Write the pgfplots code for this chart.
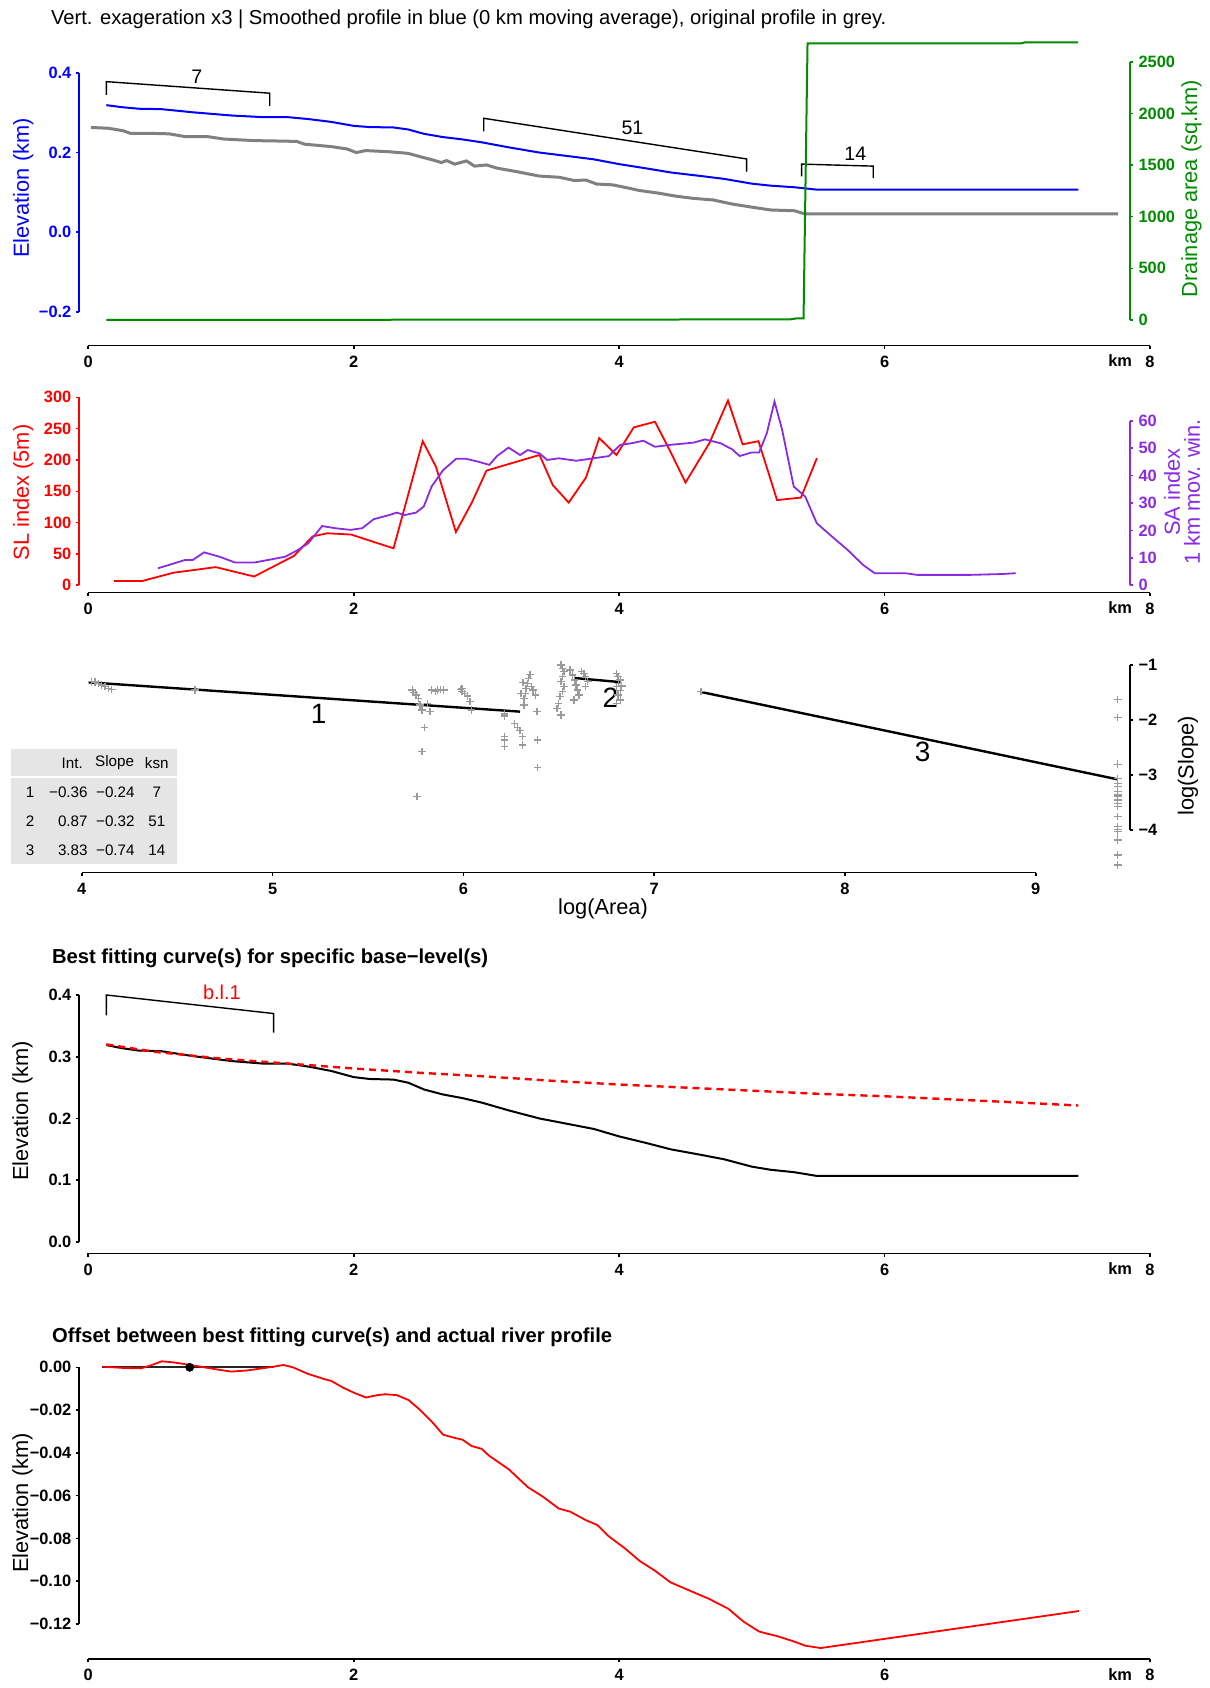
\documentclass[border=0pt]{standalone}
\usepackage{fontspec}
\setmainfont{Liberation Sans}
\usepackage{pgfplots}
\usepackage{pgfplotstable}
\pgfplotsset{compat=1.18}
\definecolor{rblue}{HTML}{0000FF}
\definecolor{rgreen}{HTML}{008B00}
\definecolor{rgrey}{HTML}{808080}
\definecolor{rpurple}{HTML}{8A2BE2}
\definecolor{rred}{HTML}{FF0000}
\definecolor{ptgrey}{HTML}{9A9A9A}
\definecolor{tabgrey}{HTML}{E5E5E5}
\newcommand{\tickfont}{\bfseries\fontsize{8.2}{9}\selectfont}
\newcommand{\labfont}{\fontsize{10.9}{12}\selectfont}
\pgfplotsset{
  rbase/.style={
    scale only axis, clip=false, anchor=south west,
    axis line style={draw=none},
    tick align=outside, major tick length=1.6pt,
    xtick pos=left, ytick pos=left,
    scaled ticks=false,
    xtick style={black, line width=0.8pt},
    tick label style={font=\tickfont},
    xticklabel style={anchor=north, inner sep=0pt, yshift=-3.4pt},
  },
  rleft/.style={yticklabel style={anchor=east, inner sep=0pt, xshift=-2.2pt}},
  rright/.style={ytick pos=right, xtick=\empty, yticklabel style={anchor=west, inner sep=0pt, xshift=2.5pt}},
}
\pgfplotstableread{
x y
0.136 0.319
0.25 0.314
0.38 0.310
0.55 0.309
0.79 0.301
1.08 0.293
1.31 0.289
1.50 0.289
1.66 0.284
1.83 0.277
2.00 0.267
2.12 0.264
2.30 0.263
2.41 0.258
2.53 0.247
2.67 0.239
2.82 0.233
2.96 0.226
3.17 0.213
3.40 0.200
3.57 0.193
3.81 0.183
4.00 0.171
4.21 0.160
4.39 0.150
4.62 0.141
4.79 0.134
5.00 0.122
5.14 0.117
5.32 0.113
5.49 0.107
7.46 0.107
}\smoothprof
\begin{document}
\begin{tikzpicture}
% ---------- titles ----------
\node[anchor=west, inner sep=0pt, font=\fontsize{10.1}{12}\selectfont] at (25.3pt,834.5pt) {Vert. exageration x3 | Smoothed profile in blue (0 km moving average), original profile in grey.};
\node[anchor=west, inner sep=0pt, font=\bfseries\fontsize{10.1}{12}\selectfont] at (25.85pt,365pt) {Best fitting curve(s) for specific base−level(s)};
\node[anchor=west, inner sep=0pt, font=\bfseries\fontsize{10.1}{12}\selectfont] at (25.85pt,175.5pt) {Offset between best fitting curve(s) and actual river profile};

% ---------- panel 1 : elevation ----------
\begin{axis}[rbase, rleft, at={(39.65pt,671.15pt)}, width=535.35pt, height=156.85pt,
  xmin=-0.0678, xmax=8, ymin=-0.2846, ymax=0.5026,
  xtick={0,2,4,6,8}, xticklabels={0,2,4,6,8},
  ytick={-0.2,0,0.2,0.4}, yticklabels={−0.2,0.0,0.2,0.4},
  ytick style={rblue, line width=0.8pt}, yticklabel style={text=rblue}]
\addplot[rgrey, line width=1.5pt] table {
x y
0.02 0.263
0.15 0.261
0.26 0.255
0.32 0.248
0.50 0.248
0.61 0.247
0.73 0.240
0.90 0.240
1.02 0.234
1.25 0.230
1.43 0.229
1.57 0.228
1.63 0.221
1.83 0.215
1.95 0.209
2.02 0.200
2.09 0.205
2.27 0.202
2.41 0.198
2.52 0.188
2.59 0.182
2.66 0.175
2.70 0.180
2.76 0.171
2.85 0.179
2.91 0.166
3.00 0.169
3.08 0.161
3.23 0.152
3.40 0.141
3.55 0.138
3.66 0.130
3.75 0.131
3.83 0.121
3.95 0.119
4.04 0.113
4.15 0.105
4.30 0.098
4.42 0.091
4.56 0.085
4.71 0.081
4.85 0.071
5.00 0.063
5.14 0.056
5.32 0.054
5.40 0.046
7.76 0.046
};
\addplot[rblue, line width=1pt] table {\smoothprof};
\addplot[black, line width=0.7pt] coordinates {(0.136,0.345) (0.136,0.378) (1.367,0.349) (1.367,0.317)};
\addplot[black, line width=0.7pt] coordinates {(2.98,0.253) (2.98,0.286) (4.96,0.184) (4.96,0.152)};
\addplot[black, line width=0.7pt] coordinates {(5.375,0.140) (5.375,0.171) (5.915,0.166) (5.915,0.136)};
\node[font=\fontsize{9.8}{11}\selectfont] at (axis cs:0.817,0.389) {7};
\node[font=\fontsize{9.8}{11}\selectfont] at (axis cs:4.10,0.261) {51};
\node[font=\fontsize{9.8}{11}\selectfont] at (axis cs:5.78,0.197) {14};
\draw[black, line width=0.8pt] (axis cs:0,-0.2846) -- (axis cs:8,-0.2846);
\draw[rblue, line width=0.8pt] (axis cs:-0.0678,-0.2) -- (axis cs:-0.0678,0.4);
\node[font=\tickfont, anchor=north, inner sep=0pt] at ([yshift=-4.4pt]axis cs:7.775,-0.2846) {km};
\end{axis}
\begin{axis}[rbase, rright, at={(39.65pt,671.15pt)}, width=525.35pt, height=156.85pt,
  xmin=-0.0678, xmax=7.850, ymin=-248.8, ymax=2787.8,
  ytick={0,500,1000,1500,2000,2500}, yticklabels={0,500,1000,1500,2000,2500},
  ytick style={rgreen, line width=0.8pt}, yticklabel style={text=rgreen}]
\addplot[rgreen, line width=1pt] coordinates {(0.136,0) (2.0,2) (4.0,4) (5.29,6) (5.34,16) (5.39,16) (5.42,2678) (7.03,2678) (7.06,2688) (7.46,2688)};
\draw[rgreen, line width=0.8pt] (axis cs:7.85,0) -- (axis cs:7.85,2500);
\end{axis}
\node[rotate=90, text=rblue, font=\labfont] at (11.6pt,750pt) {Elevation (km)};
\node[rotate=90, text=rgreen, font=\labfont] at (595.8pt,749.7pt) {Drainage area (sq.km)};

% ---------- panel 2 : SL / SA ----------
\begin{axis}[rbase, rleft, at={(39.65pt,547.65pt)}, width=535.35pt, height=103.85pt,
  xmin=-0.0678, xmax=8, ymin=-11.8, ymax=319.7,
  xtick={0,2,4,6,8}, xticklabels={0,2,4,6,8},
  ytick={0,50,100,150,200,250,300}, yticklabels={0,50,100,150,200,250,300},
  ytick style={rred, line width=0.8pt}, yticklabel style={text=rred}]
\addplot[rred, line width=0.9pt] table {
x y
0.194 7
0.409 7
0.64 20
0.96 29
1.25 14
1.55 47
1.69 78
1.80 83
1.98 81
2.30 59
2.52 230
2.62 189
2.77 85
2.89 132
3.00 183
3.40 208
3.50 160
3.62 132
3.75 172
3.85 235
3.98 208
4.11 252
4.27 261
4.38 216
4.50 164
4.68 227
4.82 295
4.93 225
5.05 230
5.19 136
5.37 140
5.49 203
};
\draw[black, line width=0.8pt] (axis cs:0,-11.8) -- (axis cs:8,-11.8);
\draw[rred, line width=0.8pt] (axis cs:-0.0678,0) -- (axis cs:-0.0678,300);
\node[font=\tickfont, anchor=north, inner sep=0pt] at ([yshift=-4.4pt]axis cs:7.775,-11.8) {km};
\end{axis}
\begin{axis}[rbase, rright, at={(39.65pt,547.65pt)}, width=525.35pt, height=103.85pt,
  xmin=-0.0678, xmax=7.850, ymin=-2.70, ymax=73.02,
  ytick={0,10,20,30,40,50,60}, yticklabels={0,10,20,30,40,50,60},
  ytick style={rpurple, line width=0.8pt}, yticklabel style={text=rpurple}]
\addplot[rpurple, line width=0.9pt] table {
x y
0.525 6.2
0.728 9.2
0.786 9.2
0.873 12.0
0.990 10.4
1.106 8.3
1.251 8.3
1.396 9.6
1.483 10.4
1.570 12.6
1.657 15.3
1.762 21.6
1.861 20.8
1.977 20.2
2.064 20.8
2.151 24.1
2.267 25.6
2.325 26.5
2.383 25.6
2.470 26.5
2.528 28.7
2.587 36.0
2.674 42.0
2.772 46.1
2.848 46.1
2.935 45.1
3.022 43.9
3.080 47.1
3.167 50.2
3.254 47.5
3.312 49.3
3.400 48.1
3.458 45.7
3.545 46.3
3.678 45.4
3.806 46.3
3.922 47.1
4.009 51.2
4.096 51.8
4.183 52.7
4.270 50.5
4.386 51.2
4.561 52.0
4.648 53.2
4.764 51.8
4.851 49.6
4.909 47.1
4.997 48.4
5.055 48.4
5.113 55.4
5.171 67.0
5.229 56.6
5.316 36.0
5.403 32.3
5.490 22.6
5.606 17.7
5.722 12.9
5.839 7.4
5.926 4.4
6.158 4.4
6.245 3.8
6.652 3.8
6.884 4.1
6.989 4.4
};
\draw[rpurple, line width=0.8pt] (axis cs:7.85,0) -- (axis cs:7.85,60);
\end{axis}
\node[rotate=90, text=rred, font=\labfont] at (11.6pt,597.75pt) {SL index (5m)};
\node[rotate=90, text=rpurple, font=\labfont, align=center, inner sep=0pt] at (591pt,598pt) {SA index\\[-2pt]1 km mov. win.};

% ---------- panel 3 : slope-area ----------
\begin{axis}[rbase, rright, at={(40.9pt,407.65pt)}, width=524.1pt, height=111.35pt,
  xmin=4, xmax=9.494, ymin=-4.776, ymax=-0.727,
  xtick={4,5,6,7,8,9}, xticklabels={4,5,6,7,8,9},
  ytick={-4,-3,-2,-1}, yticklabels={−4,−3,−2,−1},
  ytick style={black, line width=0.8pt}]
\addplot[only marks, mark=+, mark size=1.9pt, ptgrey, mark options={line width=0.7pt}] table {
x y
4.052 -1.304
4.069 -1.310
4.086 -1.333
4.104 -1.364
4.122 -1.394
4.139 -1.424
4.157 -1.442
4.593 -1.455
5.732 -1.455
5.740 -1.503
5.752 -1.545
5.764 -1.606
5.772 -1.727
5.756 -3.394
5.784 -1.818
5.796 -2.133
5.784 -2.576
5.812 -1.697
5.824 -1.848
5.832 -1.455
5.853 -1.485
5.865 -1.455
5.881 -1.442
5.897 -1.455
5.985 -1.442
5.993 -1.485
6.005 -1.515
5.993 -1.424
6.022 -1.564
6.034 -1.667
6.042 -1.818
6.215 -1.891
6.215 -1.927
6.215 -2.303
6.215 -2.364
6.215 -2.485
6.268 -2.061
6.284 -2.133
6.297 -2.194
6.309 -2.303
6.309 -2.455
6.317 -1.727
6.317 -1.606
6.325 -1.515
6.329 -1.424
6.337 -1.333
6.341 -1.242
6.349 -1.170
6.357 -1.394
6.365 -1.455
6.377 -1.545
6.385 -1.848
6.389 -2.364
6.389 -2.861
6.301 -1.515
6.313 -1.321
6.511 -1.000
6.519 -1.061
6.527 -1.121
6.519 -1.212
6.511 -1.303
6.527 -1.394
6.519 -1.485
6.507 -1.576
6.499 -1.697
6.491 -1.788
6.511 -1.909
6.559 -1.091
6.571 -1.182
6.583 -1.273
6.591 -1.364
6.599 -1.455
6.607 -1.545
6.620 -1.121
6.632 -1.152
6.640 -1.212
6.652 -1.303
6.579 -1.636
6.640 -1.394
6.802 -1.152
6.810 -1.212
6.822 -1.273
6.814 -1.333
6.802 -1.394
6.822 -1.467
6.810 -1.545
6.822 -1.636
6.802 -1.697
6.830 -1.382
7.245 -1.485
9.43 -1.624
9.43 -1.951
9.43 -2.805
9.43 -3.060
9.43 -3.151
9.43 -3.213
9.43 -3.304
9.43 -3.364
9.43 -3.395
9.43 -3.455
9.43 -3.515
9.43 -3.576
9.43 -3.758
9.43 -3.940
9.43 -3.988
9.43 -4.031
9.43 -4.182
9.43 -4.455
9.43 -4.636
};
\addplot[black, line width=1.2pt] coordinates {(4.036,-1.315) (6.297,-1.848)};
\addplot[black, line width=1.2pt] coordinates {(6.58,-1.236) (6.82,-1.31)};
\addplot[black, line width=1.2pt] coordinates {(7.245,-1.49) (9.43,-3.08)};
\node[font=\fontsize{14}{16}\selectfont] at (axis cs:5.241,-1.886) {1};
\node[font=\fontsize{14}{16}\selectfont] at (axis cs:6.770,-1.593) {2};
\node[font=\fontsize{14}{16}\selectfont] at (axis cs:8.407,-2.571) {3};
\draw[black, line width=0.8pt] (axis cs:4,-4.776) -- (axis cs:9,-4.776);
\draw[black, line width=0.8pt] (axis cs:9.494,-4) -- (axis cs:9.494,-1);
\end{axis}
\node[font=\labfont] at (301.5pt,389.5pt) {log(Area)};
\node[rotate=90, font=\labfont] at (594pt,461pt) {log(Slope)};
% table
\fill[tabgrey] (5.5pt,412pt) rectangle (88.5pt,469.5pt);
\draw[white, line width=1pt] (5.5pt,455.5pt) -- (88.5pt,455.5pt);
\begin{scope}[every node/.style={font=\fontsize{7.6}{9}\selectfont, inner sep=0pt}]
\node[anchor=east] at (41.6pt,462.5pt) {Int.};
\node at (57.3pt,462.8pt) {Slope};
\node at (78.4pt,462.5pt) {ksn};
\node at (15pt,447.65pt) {1};
\node[anchor=east] at (44pt,447.65pt) {−0.36};
\node[anchor=east] at (67.5pt,447.65pt) {−0.24};
\node at (78.4pt,447.65pt) {7};
\node at (15pt,433.15pt) {2};
\node[anchor=east] at (44pt,433.15pt) {0.87};
\node[anchor=east] at (67.5pt,433.15pt) {−0.32};
\node at (78.4pt,433.15pt) {51};
\node at (15pt,418.65pt) {3};
\node[anchor=east] at (44pt,418.65pt) {3.83};
\node[anchor=east] at (67.5pt,418.65pt) {−0.74};
\node at (78.4pt,418.65pt) {14};
\end{scope}

% ---------- panel 4 : best fitting ----------
\begin{axis}[rbase, rleft, at={(39.65pt,217.25pt)}, width=535.35pt, height=134.25pt,
  xmin=-0.0678, xmax=8, ymin=-0.01862, ymax=0.4162,
  xtick={0,2,4,6,8}, xticklabels={0,2,4,6,8},
  ytick={0,0.1,0.2,0.3,0.4}, yticklabels={0.0,0.1,0.2,0.3,0.4},
  ytick style={black, line width=0.8pt}]
\addplot[black, line width=1pt] table {\smoothprof};
\addplot[rred, line width=1.2pt, dash pattern=on 3.5pt off 2.5pt] table {
x y
0.136 0.320
0.5 0.308
1.0 0.297
1.5 0.289
2.0 0.281
2.5 0.274
3.0 0.268
3.5 0.261
4.0 0.255
4.5 0.250
5.0 0.245
5.5 0.240
6.0 0.236
6.5 0.231
7.0 0.226
7.46 0.221
};
\addplot[black, line width=0.7pt] coordinates {(0.136,0.367) (0.136,0.400) (1.396,0.370) (1.396,0.339)};
\node[text=rred, font=\fontsize{10}{12}\selectfont] at (axis cs:1.007,0.4037) {b.l.1};
\draw[black, line width=0.8pt] (axis cs:0,-0.01862) -- (axis cs:8,-0.01862);
\draw[black, line width=0.8pt] (axis cs:-0.0678,0) -- (axis cs:-0.0678,0.4);
\node[font=\tickfont, anchor=north, inner sep=0pt] at ([yshift=-4.4pt]axis cs:7.775,-0.01862) {km};
\end{axis}
\node[rotate=90, font=\labfont] at (11.3pt,288.5pt) {Elevation (km)};

% ---------- panel 5 : offset ----------
\begin{axis}[rbase, rleft, at={(39.65pt,14.5pt)}, width=535.35pt, height=152.0pt,
  xmin=-0.0678, xmax=8, ymin=-0.13632, ymax=0.00575,
  xtick={0,2,4,6,8}, xticklabels={0,2,4,6,8},
  ytick={-0.12,-0.10,-0.08,-0.06,-0.04,-0.02,0}, yticklabels={−0.12,−0.10,−0.08,−0.06,−0.04,−0.02,0.00},
  ytick style={black, line width=0.8pt}]
\addplot[black!85, line width=1pt] coordinates {(0.107,0) (1.396,0)};
\addplot[rred, line width=0.9pt] table {
x y
0.107 0.0003
0.264 -0.0003
0.397 -0.0005
0.467 0.0008
0.554 0.0028
0.641 0.0023
0.757 0.0012
0.873 0.0000
0.990 -0.0012
1.077 -0.0020
1.193 -0.0015
1.309 -0.0005
1.396 0.0003
1.471 0.0011
1.541 0.0000
1.657 -0.0031
1.773 -0.0054
1.832 -0.0064
1.919 -0.0095
2.006 -0.0120
2.093 -0.0141
2.180 -0.0130
2.238 -0.0126
2.325 -0.0130
2.413 -0.0153
2.500 -0.0199
2.587 -0.0253
2.674 -0.0315
2.761 -0.0330
2.819 -0.0338
2.889 -0.0368
2.964 -0.0381
3.022 -0.0414
3.167 -0.0476
3.312 -0.0560
3.429 -0.0606
3.545 -0.0660
3.632 -0.0675
3.748 -0.0714
3.835 -0.0737
3.922 -0.0790
4.039 -0.0844
4.155 -0.0905
4.271 -0.0951
4.387 -0.1005
4.503 -0.1036
4.677 -0.1082
4.822 -0.1128
4.938 -0.1189
5.055 -0.1235
5.200 -0.1258
5.316 -0.1281
5.403 -0.1301
5.519 -0.1312
7.464 -0.1139
};
\addplot[only marks, mark=*, mark size=2pt, black] coordinates {(0.764,0)};
\draw[black, line width=0.8pt] (axis cs:0,-0.13632) -- (axis cs:8,-0.13632);
\draw[black, line width=0.8pt] (axis cs:-0.0678,-0.12) -- (axis cs:-0.0678,0);
\node[font=\tickfont, anchor=north, inner sep=0pt] at ([yshift=-4.4pt]axis cs:7.775,-0.13632) {km};
\end{axis}
\node[rotate=90, font=\labfont] at (11.3pt,92.5pt) {Elevation (km)};

\pgfresetboundingbox
\path[use as bounding box] (0,0) rectangle (605pt,844pt);
\end{tikzpicture}
\end{document}
